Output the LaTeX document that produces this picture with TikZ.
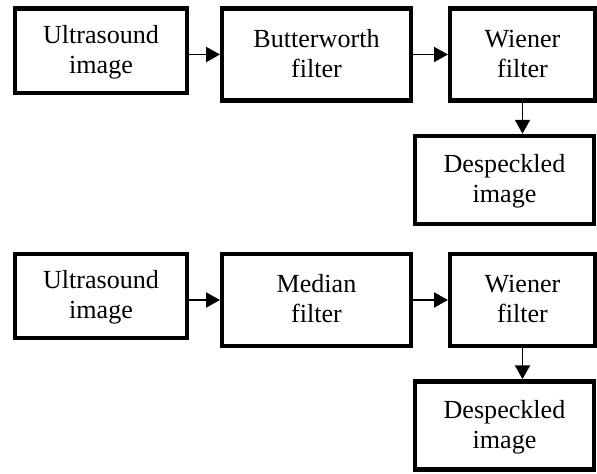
\documentclass[tikz,border=0pt]{standalone}
\usepackage{fontspec}
\setmainfont{Liberation Serif}
\usetikzlibrary{arrows.meta}

\begin{document}
\begin{tikzpicture}[x=0.46pt,y=-0.46pt,
  block/.style={draw=black,line width=2pt,align=center,inner sep=0pt,font=\fontsize{12}{13.8}\selectfont,
    text height=23pt,text depth=2pt},
  usbox/.style={block,minimum width=79.1pt,minimum height=38.8pt},
  fltbox/.style={block,minimum width=86.8pt,minimum height=42.4pt},
  wnbox/.style={block,minimum width=66.6pt,minimum height=42.4pt},
  dsbox/.style={block,minimum width=82.2pt,minimum height=40.6pt},
  flow/.style={-{Triangle[length=6.4pt,width=6.9pt]},line width=0.9pt}]

\useasboundingbox (0,0) rectangle (597,474);

\node[usbox] (us1) at (101,50.5) {Ultrasound\\image};
\node[fltbox] (bw) at (316.5,54.5) {Butterworth\\filter};
\node[wnbox] (wn1) at (522.5,54.5) {Wiener\\filter};
\node[dsbox] (ds1) at (504.5,180) {Despeckled\\image};

\node[usbox] (us2) at (101,296) {Ultrasound\\image};
\node[fltbox] (md) at (316.5,300) {Median\\filter};
\node[wnbox] (wn2) at (522.5,300) {Wiener\\filter};
\node[dsbox] (ds2) at (504.5,425.5) {Despeckled\\image};

\draw[flow] (bw.west -| us1.east) -- (bw.west);
\draw[flow] (bw.east) -- (wn1.west);
\draw[flow] (wn1.south) -- (wn1.south |- ds1.north);

\draw[flow] (md.west -| us2.east) -- (md.west);
\draw[flow] (md.east) -- (wn2.west);
\draw[flow] (wn2.south) -- (wn2.south |- ds2.north);

\end{tikzpicture}
\end{document}
